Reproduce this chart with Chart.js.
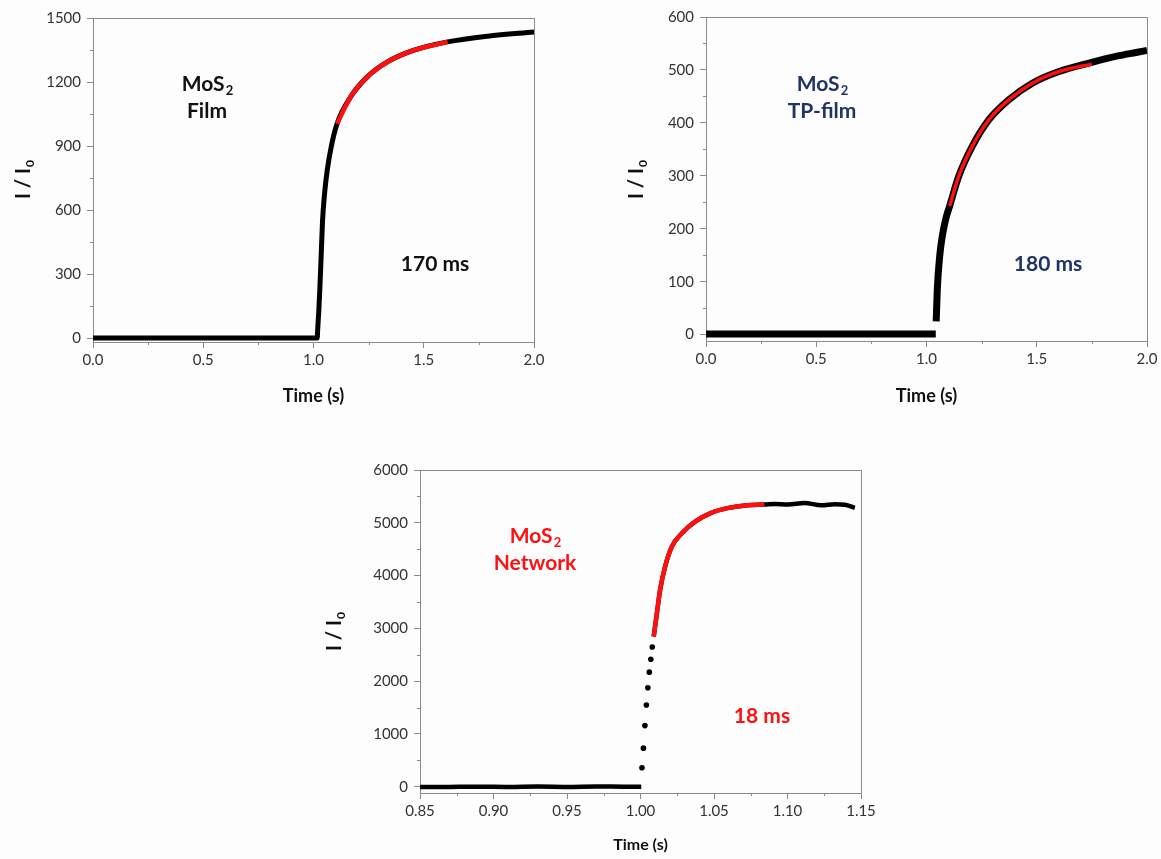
<!DOCTYPE html>
<html>
<head>
<meta charset="utf-8">
<script src="https://cdn.jsdelivr.net/npm/chart.js@4"></script>
<style>
  body { margin: 0; background: #fdfdfd; width: 1161px; height: 859px; position: relative; overflow: hidden; }
  canvas { position: absolute; }
</style>
</head>
<body>
<canvas id="filmChart" width="570" height="420" style="left:0;top:0"></canvas>
<canvas id="tpChart" width="581" height="420" style="left:580px;top:0"></canvas>
<canvas id="netChart" width="600" height="419" style="left:300px;top:440px"></canvas>
<script>
// ---- MoS2 Film ----
const filmTime  = [0.00, 0.25, 0.50, 0.75, 1.00, 1.017, 1.019, 1.024, 1.029, 1.035, 1.041, 1.050, 1.062, 1.080, 1.107, 1.168, 1.244, 1.335, 1.456, 1.608, 1.790, 2.000];
const filmRatio = [1, 1, 1, 1, 1, 1, 41, 127, 237, 394, 550, 675, 785, 895, 1005, 1130, 1224, 1294, 1349, 1388, 1415, 1435];
const filmFitTime  = [1.107, 1.168, 1.244, 1.335, 1.456, 1.608];
const filmFitRatio = [1005, 1130, 1224, 1294, 1349, 1388];
const filmXTicks = [0.0, 0.5, 1.0, 1.5, 2.0];
const filmYTicks = [0, 300, 600, 900, 1200, 1500];

// ---- MoS2 TP-film ----
const tpTime  = [0.00, 0.20, 0.40, 0.60, 0.80, 1.00, 1.042, 1.043, 1.044, 1.049, 1.060, 1.072, 1.087, 1.105, 1.147, 1.208, 1.283, 1.374, 1.480, 1.601, 1.737, 1.873, 1.950, 2.000];
const tpRatio = [1, 1, 1, 1, 1, 1, 1, null, 25, 86, 149, 187, 218, 243, 300, 356, 406, 444, 475, 497, 513, 527, 533, 537];
const tpFitTime  = [1.105, 1.147, 1.208, 1.283, 1.374, 1.480, 1.601, 1.750];
const tpFitRatio = [243, 300, 356, 406, 444, 475, 497, 511];
const tpXTicks = [0.0, 0.5, 1.0, 1.5, 2.0];
const tpYTicks = [0, 100, 200, 300, 400, 500, 600];

// ---- MoS2 Network ----
const netTime  = [0.850, 0.870, 0.890, 0.910, 0.930, 0.950, 0.970, 0.990, 1.0005,
                  null,
                  1.009, 1.0112, 1.0134, 1.0168, 1.0214, 1.0283, 1.0374, 1.0477, 1.0591, 1.0728, 1.0842, 1.091, 1.1002, 1.1116, 1.123, 1.1321, 1.139, 1.1458];
const netRatio = [-8, -4, 0, -6, 2, -4, 4, -2, 0,
                  null,
                  2845, 3296, 3736, 4176, 4553, 4805, 5025, 5183, 5277, 5334, 5345, 5358, 5345, 5375, 5330, 5350, 5340, 5283];
const netJumpTime  = [1.001, 1.002, 1.003, 1.004, 1.005, 1.006, 1.007, 1.008];
const netJumpRatio = [358, 730, 1157, 1547, 1874, 2170, 2415, 2647];
const netFitTime  = [1.009, 1.0112, 1.0134, 1.0168, 1.0214, 1.0283, 1.0374, 1.0477, 1.0591, 1.0728, 1.0842];
const netFitRatio = [2845, 3296, 3736, 4176, 4553, 4805, 5025, 5183, 5277, 5334, 5345];
const netXTicks = [0.85, 0.90, 0.95, 1.00, 1.05, 1.10, 1.15];
const netYTicks = [0, 1000, 2000, 3000, 4000, 5000, 6000];

const axisGray = '#8a8a8a';
const labelGray = '#333';
const navy = '#1f3366';
const red = '#ff1010';

function pts(xs, ys) {
  return xs.map((x, i) => (x === null ? { x: NaN, y: null } : { x: x, y: ys[i] }));
}

// text with a subscript, centred on cx
function subText(ctx, base, sub, cx, cy, size, color) {
  ctx.fillStyle = color;
  ctx.textBaseline = 'middle';
  ctx.textAlign = 'left';
  ctx.font = 'bold ' + size + 'px Lato';
  const wb = ctx.measureText(base).width;
  ctx.font = 'bold ' + Math.round(size * 0.62) + 'px Lato';
  const ws = sub ? ctx.measureText(sub).width : 0;
  const x0 = cx - (wb + ws) / 2;
  ctx.font = 'bold ' + size + 'px Lato';
  ctx.fillText(base, x0, cy);
  if (sub) {
    ctx.font = 'bold ' + Math.round(size * 0.62) + 'px Lato';
    ctx.fillText(sub, x0 + wb + 1, cy + size * 0.32);
  }
}

const decor = {
  id: 'decor',
  afterDraw(chart, args, o) {
    const { ctx, chartArea: a, scales } = chart;
    ctx.save();
    ctx.strokeStyle = axisGray;
    ctx.lineWidth = 1;
    ctx.beginPath();
    ctx.moveTo(a.left, a.top + 0.5); ctx.lineTo(a.right + 0.5, a.top + 0.5);
    ctx.moveTo(a.right + 0.5, a.top); ctx.lineTo(a.right + 0.5, a.bottom);
    o.xMinor.forEach(v => {
      const px = Math.round(scales.x.getPixelForValue(v)) + 0.5;
      ctx.moveTo(px, a.bottom); ctx.lineTo(px, a.bottom + 3);
    });
    o.yMinor.forEach(v => {
      const py = Math.round(scales.y.getPixelForValue(v)) + 0.5;
      ctx.moveTo(a.left, py); ctx.lineTo(a.left - 3, py);
    });
    ctx.stroke();

    // axis titles
    ctx.textBaseline = 'middle';
    ctx.textAlign = 'center';
    ctx.fillStyle = '#111';
    ctx.font = 'bold ' + o.xTitleSize + 'px Lato';
    ctx.fillText('Time (s)', (a.left + a.right) / 2, o.xTitleY);
    ctx.save();
    ctx.translate(o.yTitleX, o.yTitleY);
    ctx.rotate(-Math.PI / 2);
    subText(ctx, 'I / I', '0', 0, 0, 20, '#111');
    ctx.restore();

    // labels in the plot
    subText(ctx, 'MoS', '2', o.name.x, o.name.y, 21, o.color);
    subText(ctx, o.name.line2, '', o.name.x, o.name.y + 27, 21, o.color);
    subText(ctx, o.tau.text, '', o.tau.x, o.tau.y, 21, o.color);
    ctx.restore();
  }
};

function makeChart(id, cfg) {
  return new Chart(document.getElementById(id), {
    type: 'scatter',
    data: { datasets: cfg.datasets },
    options: {
      responsive: false,
      animation: false,
      layout: { padding: cfg.padding },
      plugins: { legend: { display: false }, tooltip: { enabled: false }, decor: cfg.decor },
      scales: {
        x: {
          min: cfg.xMin, max: cfg.xMax,
          afterBuildTicks: s => { s.ticks = cfg.xTicks.map(v => ({ value: v })); },
          afterFit: s => { s.height = cfg.xHeight; },
          border: { color: axisGray, width: 1 },
          grid: { drawOnChartArea: false, drawTicks: true, tickLength: 6, tickColor: axisGray, tickWidth: 1 },
          ticks: { autoSkip: false, maxRotation: 0, padding: 3, color: labelGray,
                   font: { family: 'Lato', size: cfg.tickSize },
                   callback: v => v.toFixed(cfg.xDigits) }
        },
        y: {
          min: cfg.yMin, max: cfg.yMax,
          afterBuildTicks: s => { s.ticks = cfg.yTicks.map(v => ({ value: v })); },
          afterFit: s => { s.width = cfg.yWidth; },
          border: { color: axisGray, width: 1 },
          grid: { drawOnChartArea: false, drawTicks: true, tickLength: 6, tickColor: axisGray, tickWidth: 1 },
          ticks: { autoSkip: false, padding: 6, color: labelGray,
                   font: { family: 'Lato', size: cfg.tickSize },
                   callback: v => String(v) }
        }
      }
    },
    plugins: [decor]
  });
}

function curve(data, color, width, order) {
  return { data: data, showLine: true, borderColor: color, borderWidth: width, pointRadius: 0,
           cubicInterpolationMode: 'monotone', spanGaps: false, order: order };
}

makeChart('filmChart', {
  datasets: [
    curve(pts(filmFitTime, filmFitRatio), red, 4.5, 0),
    curve(pts(filmTime, filmRatio), '#000', 5, 1)
  ],
  padding: { left: 0, top: 18, right: 36, bottom: 0 },
  xHeight: 78, yWidth: 93,
  xMin: 0, xMax: 2, yMin: -18, yMax: 1500,
  xTicks: filmXTicks, yTicks: filmYTicks, xDigits: 1, tickSize: 15,
  decor: {
    xMinor: [0.25, 0.75, 1.25, 1.75], yMinor: [150, 450, 750, 1050, 1350],
    xTitleY: 396, xTitleSize: 18, yTitleX: 24, yTitleY: 180,
    name: { x: 207, y: 84, line2: 'Film' }, tau: { x: 435, y: 264, text: '170 ms' }, color: '#111'
  }
});

makeChart('tpChart', {
  datasets: [
    curve(pts(tpFitTime, tpFitRatio), red, 3.5, 0),
    curve(pts(tpTime, tpRatio), '#000', 7, 1)
  ],
  padding: { left: 0, top: 17, right: 14, bottom: 0 },
  xHeight: 79, yWidth: 126,
  xMin: 0, xMax: 2, yMin: -12, yMax: 600,
  xTicks: tpXTicks, yTicks: tpYTicks, xDigits: 1, tickSize: 15,
  decor: {
    xMinor: [0.25, 0.75, 1.25, 1.75], yMinor: [50, 150, 250, 350, 450, 550],
    xTitleY: 396, xTitleSize: 18, yTitleX: 57, yTitleY: 180,
    name: { x: 242, y: 84, line2: 'TP-film' }, tau: { x: 468, y: 264, text: '180 ms' }, color: navy
  }
});

makeChart('netChart', {
  datasets: [
    curve(pts(netFitTime, netFitRatio), red, 4.5, 0),
    { data: pts(netJumpTime, netJumpRatio), showLine: false, pointRadius: 2.8,
      pointBackgroundColor: '#000', pointBorderWidth: 0, order: 1 },
    curve(pts(netTime, netRatio), '#000', 4.5, 2)
  ],
  padding: { left: 0, top: 30, right: 39, bottom: 0 },
  xHeight: 66, yWidth: 120,
  xMin: 0.85, xMax: 1.15, yMin: -120, yMax: 6000,
  xTicks: netXTicks, yTicks: netYTicks, xDigits: 2, tickSize: 15,
  decor: {
    xMinor: [0.875, 0.925, 0.975, 1.025, 1.075, 1.125], yMinor: [500, 1500, 2500, 3500, 4500, 5500],
    xTitleY: 405, xTitleSize: 16, yTitleX: 35, yTitleY: 192,
    name: { x: 235, y: 96, line2: 'Network' }, tau: { x: 462, y: 276, text: '18 ms' }, color: red
  }
});
</script>
</body>
</html>
